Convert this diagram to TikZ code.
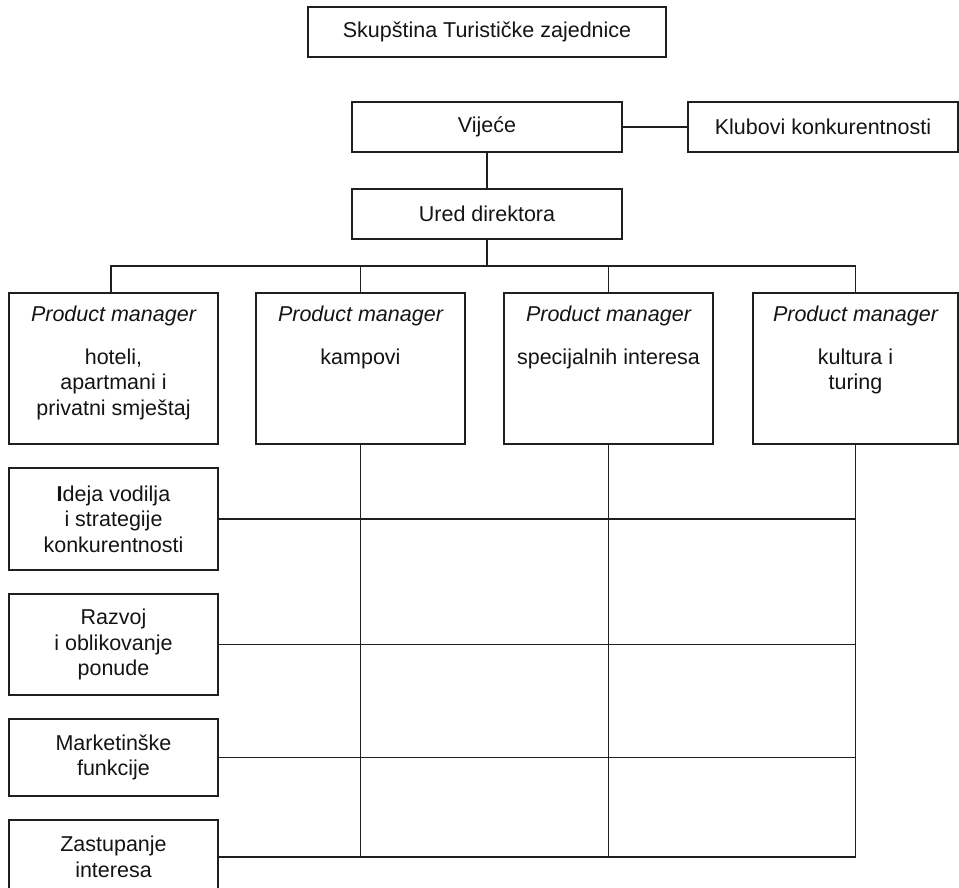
\documentclass[tikz,border=0pt]{standalone}
\usepackage{fontspec}
\setmainfont{Liberation Sans}
\begin{document}
\begin{tikzpicture}[x=1pt,y=-1pt,
  every node/.style={font=\fontsize{21.5}{25.5}\selectfont, text=black!92},
  box/.style={draw=black!88, line width=1.35pt, align=center, inner sep=0pt},
  pmbox/.style={box, minimum width=209, minimum height=151},
  leftbox/.style={box, minimum width=209},
  pmhead/.style={inner sep=0pt, font=\fontsize{21.5}{25.5}\selectfont\itshape},
  pmtext/.style={anchor=north, align=center, inner sep=0pt},
  conn/.style={draw=black!88, line width=1.35pt}]
\useasboundingbox (0,0) rectangle (959,888);
\clip (0,0) rectangle (959,888);

% top
\node[box, minimum width=358, minimum height=50] (sk) at (487,32) {Skupština Turističke zajednice};
\node[box, minimum width=270, minimum height=50] (vij) at (487,127) {Vijeće};
\node[box, minimum width=270, minimum height=50] (klub) at (823,127) {Klubovi konkurentnosti};
\node[box, minimum width=270, minimum height=50] (ured) at (487,214) {Ured direktora};

% product managers
\node[pmbox] (pm1) at (113.5,368.5) {};
\node[pmbox] (pm2) at (360.5,368.5) {};
\node[pmbox] (pm3) at (608.5,368.5) {};
\node[pmbox, minimum width=205] (pm4) at (855.5,368.5) {};

\node[pmhead] (pm1h) at ([yshift=-24pt]pm1.north) {Product manager};
\node[pmhead] (pm2h) at ([yshift=-24pt]pm2.north) {Product manager};
\node[pmhead] (pm3h) at ([yshift=-24pt]pm3.north) {Product manager};
\node[pmhead] (pm4h) at ([yshift=-24pt]pm4.north) {Product manager};

\node[pmtext] (pm1t) at ([yshift=-56pt]pm1.north) {hoteli,\\apartmani i\\privatni smještaj};
\node[pmtext] (pm2t) at ([yshift=-56pt]pm2.north) {kampovi};
\node[pmtext] (pm3t) at ([yshift=-56pt]pm3.north) {specijalnih interesa};
\node[pmtext] (pm4t) at ([yshift=-56pt]pm4.north) {kultura i\\turing};

% functions
\node[leftbox, minimum height=102] (ideja) at (113.5,519) {\textbf{I}deja vodilja\\i strategije\\konkurentnosti};
\node[leftbox, minimum height=101] (razvoj) at (113.5,644.5) {Razvoj\\i oblikovanje\\ponude};
\node[leftbox, minimum height=77] (mark) at (113.5,757.5) {Marketinške\\funkcije};
\node[leftbox, minimum height=74] (zast) at (113.5,857) {Zastupanje\\interesa};

% connectors
\draw[conn] (vij) -- (klub);
\draw[conn] (vij) -- (ured);
\coordinate (bus) at (487,266);
\draw[conn] (ured.south) -- (bus);
\draw[conn] ([xshift=-2.5pt]pm1.north) |- (bus) -| (pm4.north);
\draw[conn] (pm2.north) -- (pm2.north |- bus);
\draw[conn] (pm3.north) -- (pm3.north |- bus);

\draw[conn] (ideja.east) -- (ideja.east -| pm4.south);
\draw[conn] (razvoj.east) -- (razvoj.east -| pm4.south);
\draw[conn] (mark.east) -- (mark.east -| pm4.south);
\draw[conn] (pm2.south) -- (pm2.south |- zast.east);
\draw[conn] (pm3.south) -- (pm3.south |- zast.east);
\draw[conn, line join=miter] (zast.east) -| (pm4.south);
\end{tikzpicture}
\end{document}
